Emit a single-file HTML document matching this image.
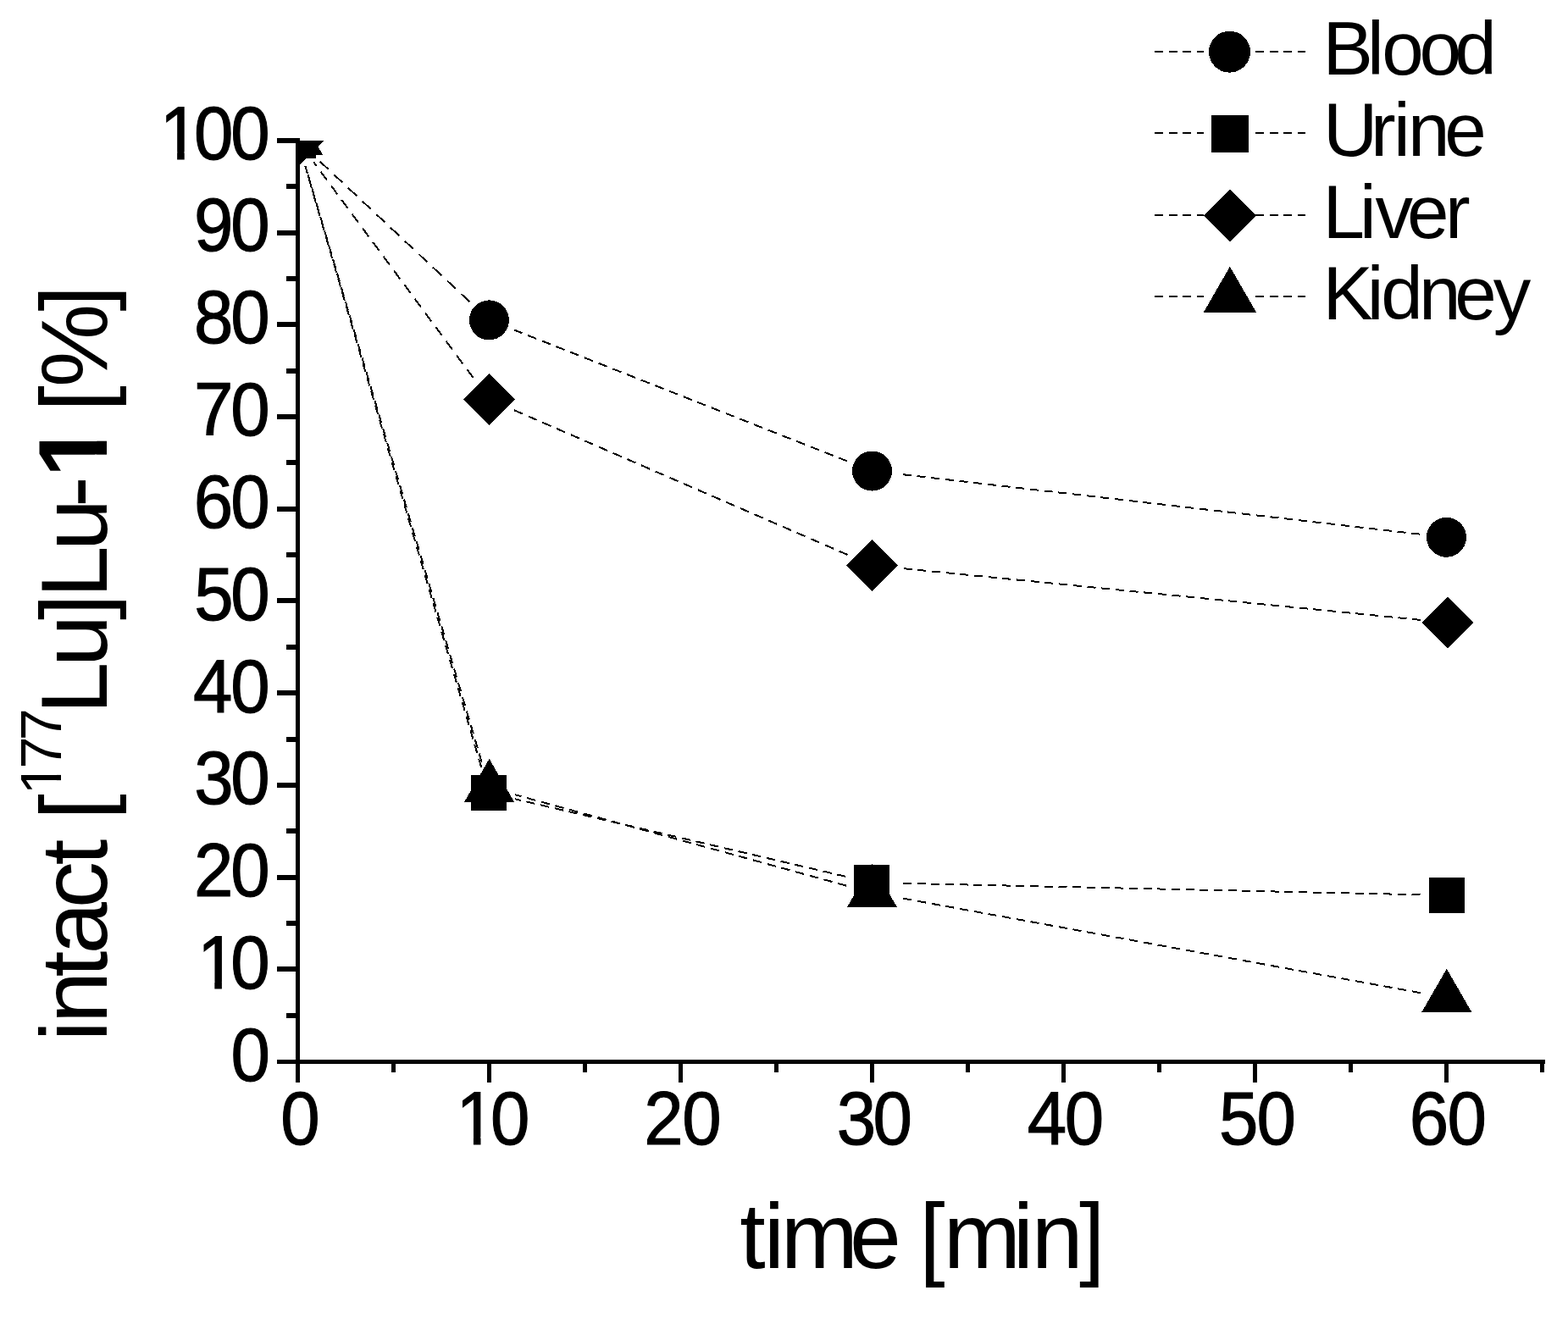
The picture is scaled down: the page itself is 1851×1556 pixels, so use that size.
<!DOCTYPE html><html><head><meta charset="utf-8"><title>intact [177Lu]Lu-1 vs time</title>
<style>html,body{margin:0;padding:0;background:#fff;overflow:hidden}svg{display:block}text{font-family:"Liberation Sans",Arial,sans-serif;fill:#000;font-kerning:none}</style></head><body>
<svg width="1851" height="1556" viewBox="0 0 1851 1556">
<rect width="100%" height="100%" fill="#fff"/>
<defs><clipPath id="pc"><rect x="351.5" y="166" width="1500" height="1100"/></clipPath></defs>
<g clip-path="url(#pc)" shape-rendering="crispEdges">
<g stroke="#000" stroke-width="2" fill="none">
<line x1="554.43" y1="356.35" x2="374.47" y2="187.55" stroke-dasharray="13.711 9.159"/><line x1="1000.19" y1="544.45" x2="606.71" y2="389.45" stroke-dasharray="10.748 7.180"/><line x1="1676.21" y1="630.69" x2="1060.79" y2="559.61" stroke-dasharray="10.066 6.724"/>
<line x1="568.15" y1="905.77" x2="360.35" y2="196.23" stroke-dasharray="10.420 6.961"/><line x1="998.33" y1="1034.81" x2="607.67" y2="943.19" stroke-dasharray="10.271 6.861"/><line x1="1676.51" y1="1056.30" x2="1060.49" y2="1042.70" stroke-dasharray="10.002 6.682"/>
<line x1="558.67" y1="446.08" x2="370.23" y2="191.32" stroke-dasharray="12.438 8.309"/><line x1="1000.60" y1="654.97" x2="606.30" y2="483.93" stroke-dasharray="10.900 7.281"/><line x1="1677.15" y1="731.88" x2="1060.85" y2="670.62" stroke-dasharray="10.049 6.713"/>
<line x1="568.66" y1="899.63" x2="360.44" y2="195.81" stroke-dasharray="10.428 6.966"/><line x1="999.13" y1="1045.65" x2="607.97" y2="938.18" stroke-dasharray="10.371 6.928"/><line x1="1676.81" y1="1172.14" x2="1060.49" y2="1059.66" stroke-dasharray="10.165 6.790"/>
</g>
<g fill="#000">
<circle cx="351.5" cy="166.0" r="23.5"/>
<circle cx="577.4" cy="377.9" r="23.5"/>
<circle cx="1029.5" cy="556.0" r="23.5"/>
<circle cx="1707.5" cy="634.3" r="23.5"/>
<rect x="330.5" y="145.0" width="42" height="42"/>
<rect x="556.0" y="915.0" width="42" height="42"/>
<rect x="1008.0" y="1021.0" width="42" height="42"/>
<rect x="1687.0" y="1036.0" width="42" height="42"/>
<polygon points="351.5,135.5 382.0,166.0 351.5,196.5 321.0,166.0"/>
<polygon points="577.4,440.9 607.9,471.4 577.4,501.9 546.9,471.4"/>
<polygon points="1029.5,637.0 1060.0,667.5 1029.5,698.0 999.0,667.5"/>
<polygon points="1708.5,704.5 1739.0,735.0 1708.5,765.5 1678.0,735.0"/>
<polygon points="351.5,131.6 381.0,182.6 322.0,182.6"/>
<polygon points="577.6,895.9 607.1,946.8 548.1,946.8"/>
<polygon points="1029.5,1020.0 1059.0,1071.0 1000.0,1071.0"/>
<polygon points="1707.8,1143.8 1737.3,1194.8 1678.3,1194.8"/>
</g></g>
<g fill="#000" shape-rendering="crispEdges">
<rect x="349" y="163" width="5" height="1115"/>
<rect x="327" y="1251" width="1497" height="5"/>
<rect x="338" y="1196" width="13" height="6"/>
<rect x="327" y="1141" width="24" height="6"/>
<rect x="338" y="1087" width="13" height="6"/>
<rect x="327" y="1033" width="24" height="6"/>
<rect x="338" y="978" width="13" height="6"/>
<rect x="327" y="924" width="24" height="6"/>
<rect x="338" y="870" width="13" height="6"/>
<rect x="327" y="815" width="24" height="6"/>
<rect x="338" y="761" width="13" height="6"/>
<rect x="327" y="706" width="24" height="6"/>
<rect x="338" y="652" width="13" height="6"/>
<rect x="327" y="598" width="24" height="6"/>
<rect x="338" y="543" width="13" height="6"/>
<rect x="327" y="489" width="24" height="6"/>
<rect x="338" y="435" width="13" height="6"/>
<rect x="327" y="380" width="24" height="6"/>
<rect x="338" y="326" width="13" height="6"/>
<rect x="327" y="272" width="24" height="6"/>
<rect x="338" y="217" width="13" height="6"/>
<rect x="327" y="163" width="24" height="6"/>
<rect x="349" y="1253" width="5" height="25"/>
<rect x="462" y="1253" width="5" height="13"/>
<rect x="575" y="1253" width="5" height="25"/>
<rect x="688" y="1253" width="5" height="13"/>
<rect x="801" y="1253" width="5" height="25"/>
<rect x="914" y="1253" width="5" height="13"/>
<rect x="1027" y="1253" width="5" height="25"/>
<rect x="1140" y="1253" width="5" height="13"/>
<rect x="1253" y="1253" width="5" height="25"/>
<rect x="1366" y="1253" width="5" height="13"/>
<rect x="1479" y="1253" width="5" height="25"/>
<rect x="1592" y="1253" width="5" height="13"/>
<rect x="1705" y="1253" width="5" height="25"/>
<rect x="1818" y="1253" width="5" height="13"/>
</g>
<g font-size="88.8" stroke="#000" stroke-width="1.1">
<text transform="scale(0.94,1)" x="289.77" y="1276.1">0</text>
<text transform="scale(0.94,1)" x="247.80 289.56" y="1167.2">10</text>
<text transform="scale(0.94,1)" x="243.71 289.56" y="1058.4">20</text>
<text transform="scale(0.94,1)" x="243.97 289.56" y="949.5">30</text>
<text transform="scale(0.94,1)" x="242.50 289.56" y="840.7">40</text>
<text transform="scale(0.94,1)" x="243.80 289.56" y="731.8">50</text>
<text transform="scale(0.94,1)" x="243.41 289.56" y="623.0">60</text>
<text transform="scale(0.94,1)" x="243.67 289.56" y="514.1">70</text>
<text transform="scale(0.94,1)" x="243.71 289.56" y="405.3">80</text>
<text transform="scale(0.94,1)" x="243.73 289.56" y="296.4">90</text>
<text transform="scale(0.94,1)" x="200.78 243.71 289.56" y="187.6">100</text>
<text transform="scale(0.94,1)" x="352.38" y="1351">0</text>
<text transform="scale(0.94,1)" x="572.91 616.00" y="1351">10</text>
<text transform="scale(0.94,1)" x="808.87 856.69" y="1351">20</text>
<text transform="scale(0.94,1)" x="1050.83 1096.21" y="1351">30</text>
<text transform="scale(0.94,1)" x="1290.16 1337.06" y="1351">40</text>
<text transform="scale(0.94,1)" x="1530.98 1578.29" y="1351">50</text>
<text transform="scale(0.94,1)" x="1769.95 1817.65" y="1351">60</text>
</g>
<text font-size="109.5" x="873.24 901.68 921.63 1002.95 1012.95 1085.29 1113.73 1195.68 1217.73 1274.04" y="1496.8">time [min]</text>
<text transform="rotate(-90)" font-size="110.5"><tspan x="-1229.39 -1208.14 -1153.47 -1126.49 -1072.19 -1021.47 -1011.47 -967.68" y="126">intact [</tspan><tspan font-size="68.3" x="-938.21 -907.40 -874.30" y="71.9">177</tspan><tspan x="-842.96 -787.18 -731.96 -705.86 -650.18 -598.91" y="126">Lu]Lu-</tspan><tspan font-weight="bold" font-size="115" x="-563.42" y="126">1</tspan><tspan x="-495.78 -485.78 -456.94 -367.56" y="126"> [%]</tspan></text>
<g shape-rendering="crispEdges"><g stroke="#000" stroke-width="2" stroke-dasharray="10 6.68"><line x1="1363" y1="60.8" x2="1421" y2="60.8"/><line x1="1482" y1="60.8" x2="1540.5" y2="60.8"/></g>
<circle cx="1451.5" cy="61.2" r="24.5"/>
</g>
<text font-size="89" x="1561.60 1614.00 1631.16 1675.46 1717.26" y="87.7">Blood</text>
<g shape-rendering="crispEdges"><g stroke="#000" stroke-width="2" stroke-dasharray="10 6.68"><line x1="1363" y1="157.0" x2="1421" y2="157.0"/><line x1="1482" y1="157.0" x2="1540.5" y2="157.0"/></g>
<rect x="1430" y="136.2" width="44" height="43.8"/>
</g>
<text font-size="89" x="1562.03 1617.99 1645.05 1661.99 1705.32" y="183.7">Urine</text>
<g shape-rendering="crispEdges"><g stroke="#000" stroke-width="2" stroke-dasharray="10 6.68"><line x1="1363" y1="254.0" x2="1421" y2="254.0"/><line x1="1482" y1="254.0" x2="1540.5" y2="254.0"/></g>
<polygon points="1451.9,223.2 1483,254.5 1451.9,285.7 1420.8,254.5"/>
</g>
<text font-size="89" x="1561.60 1604.95 1623.60 1661.12 1705.99" y="280.7">Liver</text>
<g shape-rendering="crispEdges"><g stroke="#000" stroke-width="2" stroke-dasharray="10 6.68"><line x1="1363" y1="350.0" x2="1421" y2="350.0"/><line x1="1482" y1="350.0" x2="1540.5" y2="350.0"/></g>
<polygon points="1451.9,314.7 1483,368.7 1420.8,368.7"/>
</g>
<text font-size="89" x="1561.50 1613.65 1630.16 1675.09 1717.22 1762.68" y="377">Kidney</text>
<g fill="#fff">
<rect x="237.79" y="1159.00" width="15.53" height="11.00"/>
<rect x="261.90" y="1159.00" width="15.48" height="11.00"/>
<rect x="193.59" y="179.00" width="15.53" height="11.00"/>
<rect x="217.70" y="179.00" width="15.48" height="11.00"/>
<rect x="543.39" y="1342.00" width="15.53" height="11.00"/>
<rect x="567.50" y="1342.00" width="15.48" height="11.00"/>
<rect transform="rotate(-90)" x="-934.51" y="65.00" width="13.37" height="9.00"/>
<rect transform="rotate(-90)" x="-914.90" y="65.00" width="12.94" height="9.00"/>
<rect transform="rotate(-90)" x="-557.68" y="112.00" width="21.00" height="16.00"/>
<rect transform="rotate(-90)" x="-520.70" y="112.00" width="19.64" height="16.00"/>
</g>
</svg></body></html>
